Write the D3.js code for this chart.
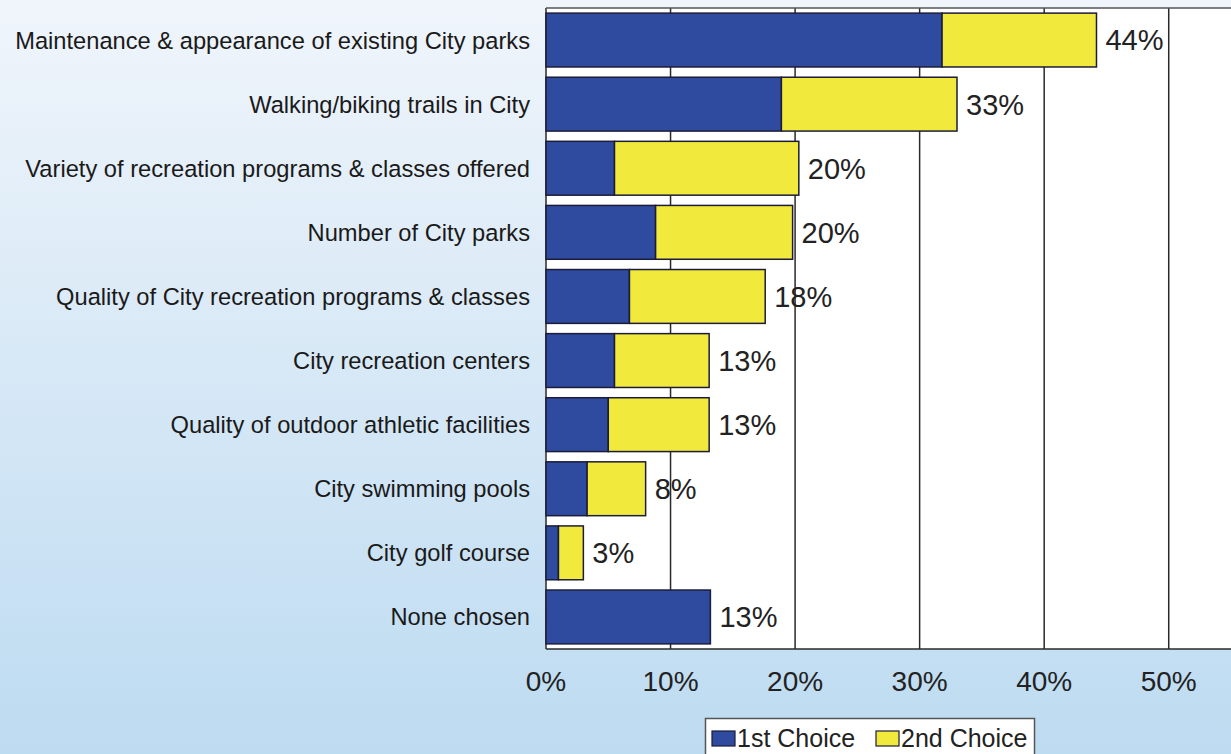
<!DOCTYPE html>
<html>
<head>
<meta charset="utf-8">
<script src="https://cdn.jsdelivr.net/npm/d3@7"></script>
<style>
  html, body { margin: 0; padding: 0; }
  body { width: 1231px; height: 754px; overflow: hidden; font-family: "Liberation Sans", Arial, sans-serif; }
</style>
</head>
<body>
<div id="chart"></div>
<script>
/* ===== stacked horizontal bar: park priorities ===== */

const categories = [
    'Maintenance & appearance of existing City parks',
    'Walking/biking trails in City',
    'Variety of recreation programs & classes offered',
    'Number of City parks',
    'Quality of City recreation programs & classes',
    'City recreation centers',
    'Quality of outdoor athletic facilities',
    'City swimming pools',
    'City golf course',
    'None chosen'
];
const firstChoice = [31.8, 18.9, 5.5, 8.8, 6.7, 5.5, 5.0, 3.3, 1.0, 13.2];
const secondChoice = [12.4, 14.1, 14.8, 11.0, 10.9, 7.6, 8.1, 4.7, 2.0, 0];
const totalLabels = ['44%', '33%', '20%', '20%', '18%', '13%', '13%', '8%', '3%', '13%'];
const xTicks = [0, 10, 20, 30, 40, 50];
const seriesNames = ['1st Choice', '2nd Choice'];
const seriesColors = ['#2f4b9f', '#f1ea3c'];

const width = 1231, height = 754;
const plot = { left: 546, right: 1231, top: 8, bottom: 649 };

const svg = d3.select('#chart').append('svg')
    .attr('width', width)
    .attr('height', height);

// background gradient
const grad = svg.append('defs').append('linearGradient')
    .attr('id', 'bg').attr('x1', 0).attr('y1', 0).attr('x2', 0).attr('y2', 1);
grad.append('stop').attr('offset', '0%').attr('stop-color', '#f0f5fb');
grad.append('stop').attr('offset', '100%').attr('stop-color', '#bddbf1');
svg.append('rect').attr('width', width).attr('height', height).attr('fill', 'url(#bg)');

const x = d3.scaleLinear().domain([0, 55]).range([plot.left, plot.right]);
const y = d3.scaleBand().domain(categories).range([plot.top, plot.bottom]).paddingInner(0.16).paddingOuter(0.08);

// plot area
svg.append('rect')
    .attr('x', plot.left).attr('y', plot.top)
    .attr('width', plot.right - plot.left).attr('height', plot.bottom - plot.top)
    .attr('fill', '#fff');

// gridlines
svg.append('g').selectAll('line')
    .data(xTicks)
    .join('line')
    .attr('x1', d => x(d)).attr('x2', d => x(d))
    .attr('y1', plot.top).attr('y2', plot.bottom)
    .attr('stroke', '#2a2a2a').attr('stroke-width', 1.5);

svg.append('line')
    .attr('x1', plot.left).attr('x2', plot.right)
    .attr('y1', plot.top).attr('y2', plot.top)
    .attr('stroke', '#555').attr('stroke-width', 1.5);
svg.append('line')
    .attr('x1', plot.left).attr('x2', plot.right)
    .attr('y1', plot.bottom).attr('y2', plot.bottom)
    .attr('stroke', '#2a2a2a').attr('stroke-width', 1.5);

// stacked bars
const rows = categories.map((c, i) => ({ cat: c, first: firstChoice[i], second: secondChoice[i], label: totalLabels[i] }));
const stack = d3.stack().keys(['first', 'second'])(rows);

svg.append('g').selectAll('g')
    .data(stack)
    .join('g')
    .attr('fill', (d, i) => seriesColors[i])
    .selectAll('rect')
    .data(d => d.filter(s => s[1] - s[0] > 0))
    .join('rect')
    .attr('x', d => x(d[0]))
    .attr('y', d => y(d.data.cat))
    .attr('width', d => x(d[1]) - x(d[0]))
    .attr('height', y.bandwidth())
    .attr('stroke', '#1c1c3a')
    .attr('stroke-width', 1.5);

// value labels
svg.append('g').selectAll('text')
    .data(rows)
    .join('text')
    .attr('x', d => x(d.first + d.second) + 9)
    .attr('y', d => y(d.cat) + y.bandwidth() / 2)
    .attr('dy', '0.36em')
    .attr('font-size', 29)
    .attr('fill', '#222')
    .text(d => d.label);

// category labels
svg.append('g').selectAll('text')
    .data(categories)
    .join('text')
    .attr('x', plot.left - 16)
    .attr('y', d => y(d) + y.bandwidth() / 2)
    .attr('dy', '0.36em')
    .attr('text-anchor', 'end')
    .attr('font-size', 23.7)
    .attr('fill', '#1a1a1a')
    .text(d => d);

// x axis labels
svg.append('g').selectAll('text')
    .data(xTicks)
    .join('text')
    .attr('x', d => x(d))
    .attr('y', 691)
    .attr('text-anchor', 'middle')
    .attr('font-size', 28)
    .attr('fill', '#222')
    .text(d => d + '%');

// legend
const legend = svg.append('g');
legend.append('rect')
    .attr('x', 705.5).attr('y', 718.5)
    .attr('width', 329).attr('height', 50)
    .attr('fill', '#fff').attr('stroke', '#555').attr('stroke-width', 1.5);

const legendX = [712, 876];
seriesNames.forEach((name, i) => {
    legend.append('rect')
        .attr('x', legendX[i]).attr('y', 731)
        .attr('width', 23).attr('height', 15)
        .attr('fill', seriesColors[i]).attr('stroke', '#1c1c3a').attr('stroke-width', 1.2);
    legend.append('text')
        .attr('x', legendX[i] + 25).attr('y', 747)
        .attr('font-size', 25)
        .attr('fill', '#222')
        .text(name);
});
</script>
</body>
</html>
